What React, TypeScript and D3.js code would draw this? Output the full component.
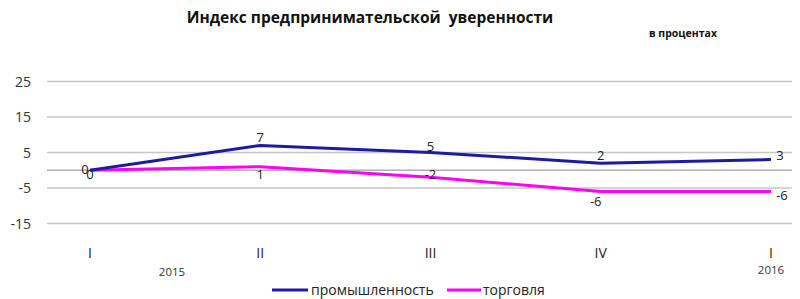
import React from "react";
import * as d3 from "d3";

const categories = ["I", "II", "III", "IV", "I "];
const categoryLabels = ["I", "II", "III", "IV", "I"];
const industry = [0, 7, 5, 2, 3];
const trade = [0, 1, -2, -6, -6];
const yTicks = [25, 15, 5, -5, -15];
const seriesNames = ["промышленность", "торговля"];

const W = 800;
const H = 299;
const FONT = "'Open Sans', 'Liberation Sans', sans-serif";

export default function App() {
  const x = d3.scalePoint<string>().domain(categories).range([90, 771]);
  const y = d3.scaleLinear().domain([-15, 25]).range([223.5, 81.5]);
  const line = d3
    .line<number>()
    .x((_, i) => x(categories[i]) as number)
    .y((d) => y(d));

  const indLabelOff = [[-5, 4], [0, -3], [0, -2], [0, -3], [9, 0]];
  const trLabelOff = [[0, 9], [0, 12], [0, 2], [-5, 14], [11, 8]];

  return (
    <svg width={W} height={H} style={{ position: "absolute", left: 0, top: 0, background: "#fff" }}>
      <text x={370} y={23} textAnchor="middle" fontFamily={FONT} fontWeight="bold" fontSize={15.5} fill="#111"
        style={{ whiteSpace: "pre" }}>
        {"Индекс предпринимательской  уверенности"}
      </text>
      <text x={683} y={37} textAnchor="middle" fontFamily={FONT} fontWeight="bold" fontSize={10.5} fill="#111">
        в процентах
      </text>

      {yTicks.map((t) => (
        <g key={t}>
          <line x1={47} x2={792} y1={y(t)} y2={y(t)} stroke="#c6c6c6" strokeWidth={1.5} />
          <text x={31} y={y(t) + 5} textAnchor="end" fontFamily={FONT} fontSize={14} fill="#333">
            {t}
          </text>
        </g>
      ))}
      <line x1={47} x2={792} y1={y(0)} y2={y(0)} stroke="#b0b0b0" strokeWidth={1.5} />

      {categories.map((c, i) => (
        <text key={c} x={x(c)} y={258} textAnchor="middle" fontFamily={FONT} fontSize={14} fill="#222">
          {categoryLabels[i]}
        </text>
      ))}
      <text x={172} y={276} textAnchor="middle" fontFamily={FONT} fontSize={11.5} fill="#333">2015</text>
      <text x={771} y={274} textAnchor="middle" fontFamily={FONT} fontSize={11.5} fill="#333">2016</text>

      <path d={line(trade) || ""} fill="none" stroke="#ff00ff" strokeWidth={3} />
      <path d={line(industry) || ""} fill="none" stroke="#1c1ca0" strokeWidth={3} />

      {industry.map((v, i) => (
        <text key={"i" + i} x={(x(categories[i]) as number) + indLabelOff[i][0]} y={y(v) + indLabelOff[i][1]}
          textAnchor="middle" fontFamily={FONT} fontSize={13} fill="#222">
          {v}
        </text>
      ))}
      {trade.map((v, i) => (
        <text key={"t" + i} x={(x(categories[i]) as number) + trLabelOff[i][0]} y={y(v) + trLabelOff[i][1]}
          textAnchor="middle" fontFamily={FONT} fontSize={13} fill="#222">
          {v}
        </text>
      ))}

      <line x1={272} x2={308} y1={290} y2={290} stroke="#1c1ca0" strokeWidth={3} />
      <text x={311} y={295} fontFamily={FONT} fontSize={14} fill="#222">{seriesNames[0]}</text>
      <line x1={447} x2={481} y1={290} y2={290} stroke="#ff00ff" strokeWidth={3} />
      <text x={483} y={295} fontFamily={FONT} fontSize={14} fill="#222">{seriesNames[1]}</text>
    </svg>
  );
}
